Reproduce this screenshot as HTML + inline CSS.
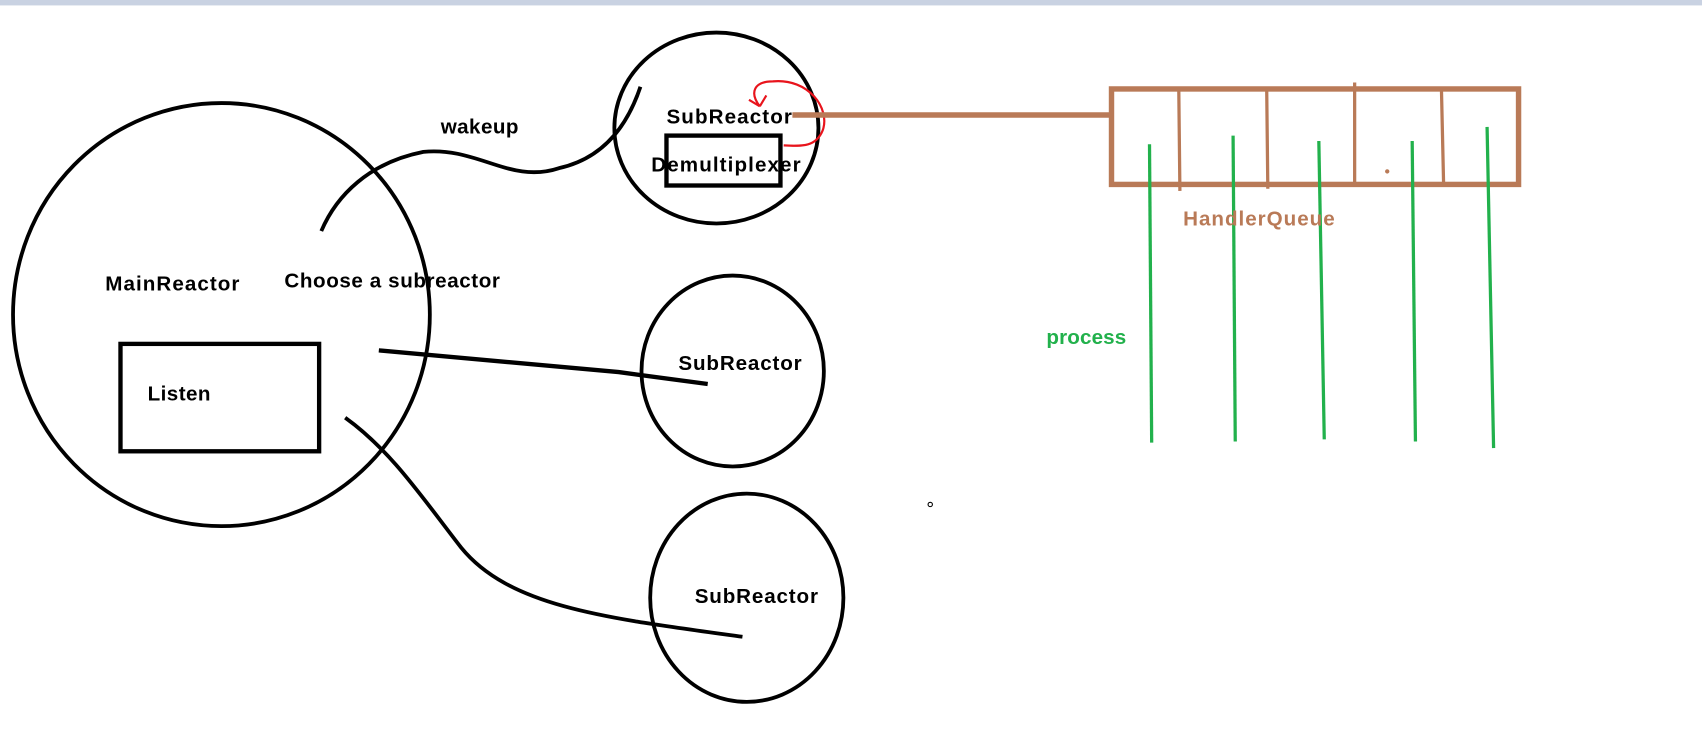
<!DOCTYPE html>
<html><head><style>html,body{margin:0;padding:0;background:#fff}svg{display:block}</style></head>
<body>
<svg width="1702" height="729" viewBox="0 0 1568 672" preserveAspectRatio="none" xmlns="http://www.w3.org/2000/svg" font-family="Liberation Sans, sans-serif" font-weight="bold" font-size="19" letter-spacing="0.4">
<rect x="0" y="0" width="1568" height="5" fill="#c9d2e2"/>
<g fill="none" stroke="#000" stroke-width="3.5">
<ellipse cx="204" cy="290" rx="192" ry="195"/>
<ellipse cx="660" cy="118" rx="94" ry="88"/>
<ellipse cx="675" cy="342" rx="84" ry="88"/>
<ellipse cx="688" cy="551" rx="89" ry="96"/>
<rect x="111" y="317" width="183" height="99" stroke-width="4"/>
<rect x="614" y="125" width="105" height="46" stroke-width="4"/>
<path d="M296 213 C310 180 340 150 390 140 C440 135 470 170 515 155 C560 145 580 110 590 80"/>
<path d="M349 323 L570 343 L652 354" stroke-width="4"/>
<path d="M318 385 C360 415 390 460 425 505 C470 560 560 570 684 587"/>
<circle cx="857" cy="465" r="2" stroke-width="1"/>
</g>
<path d="M700 98 C690 85 695 75 712 75 C745 72 765 100 758 120 C752 135 740 135 722 134 M700 98 L706 88 M700 98 L690 92" fill="none" stroke="#e8141c" stroke-width="2"/>
<g stroke="#b97a57" fill="none">
<line x1="730" y1="106" x2="1023" y2="106" stroke-width="5"/>
<rect x="1024" y="82" width="375" height="88" stroke-width="5"/>
<path d="M1086 84 L1087 176 M1167 84 L1168 174 M1248 76 L1248 172 M1328 84 L1330 172" stroke-width="3"/>
</g>
<circle cx="1278" cy="158" r="2" fill="#b97a57"/>
<g stroke="#22b14c" stroke-width="3" fill="none">
<line x1="1059" y1="133" x2="1061" y2="408"/>
<line x1="1136" y1="125" x2="1138" y2="407"/>
<line x1="1215" y1="130" x2="1220" y2="405"/>
<line x1="1301" y1="130" x2="1304" y2="407"/>
<line x1="1370" y1="117" x2="1376" y2="413"/>
</g>
<g fill="#000">
<text x="97" y="268" textLength="124">MainReactor</text>
<text x="262" y="265" textLength="199">Choose a subreactor</text>
<text x="136" y="369">Listen</text>
<text x="406" y="123">wakeup</text>
<text x="614" y="114" textLength="116">SubReactor</text>
<text x="600" y="158" textLength="138">Demultiplexer</text>
<text x="625" y="341" textLength="114">SubReactor</text>
<text x="640" y="556" textLength="114">SubReactor</text>
</g>
<text x="1090" y="208" fill="#b97a57" textLength="140">HandlerQueue</text>
<text x="964" y="317" fill="#22b14c" textLength="74">process</text>
</svg>
</body></html>
